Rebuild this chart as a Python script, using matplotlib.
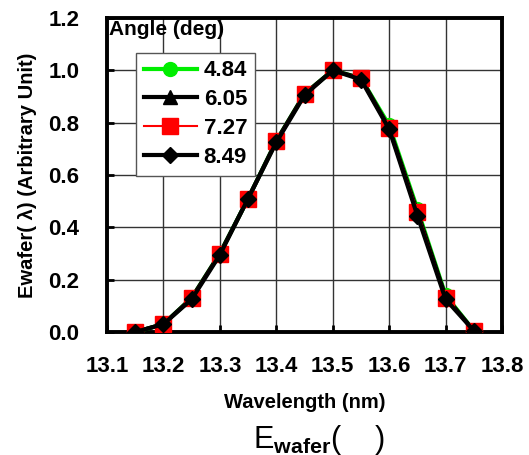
import matplotlib.pyplot as plt

plt.rcParams['font.family'] = ['Liberation Sans', 'DejaVu Sans']
plt.rcParams['mathtext.fontset'] = 'custom'
plt.rcParams['mathtext.rm'] = 'Liberation Sans'
plt.rcParams['mathtext.bf'] = 'Liberation Sans:bold'

# wavelength points (nm)
wl = [13.15, 13.20, 13.25, 13.30, 13.35, 13.40, 13.45, 13.50, 13.55, 13.60, 13.65, 13.70, 13.75]

# Ewafer for each angle
e_484 = [0.0, 0.03, 0.13, 0.30, 0.51, 0.73, 0.91, 1.00, 0.97, 0.79, 0.47, 0.14, 0.005]
e_605 = [0.0, 0.03, 0.13, 0.30, 0.51, 0.73, 0.91, 1.00, 0.97, 0.78, 0.46, 0.135, 0.005]
e_727 = [0.0, 0.03, 0.13, 0.30, 0.51, 0.73, 0.91, 1.00, 0.97, 0.78, 0.46, 0.13, 0.005]
e_849 = [0.0, 0.03, 0.125, 0.295, 0.51, 0.725, 0.905, 1.00, 0.965, 0.775, 0.445, 0.125, 0.005]

labels = ['4.84', '6.05', '7.27', '8.49']

fig = plt.figure(figsize=(5.29, 4.55), dpi=100)
ax = fig.add_axes([0.2023, 0.2703, 0.7467, 0.690])

ax.plot(wl, e_484, color='#00ee00', lw=3, marker='o', ms=10, label=labels[0], zorder=3)
ax.plot(wl, e_605, color='black', lw=3, marker='^', ms=10, label=labels[1], zorder=4)
ax.plot(wl, e_727, color='red', lw=1.5, marker='s', ms=11, label=labels[2], zorder=5)
ax.plot(wl, e_849, color='black', lw=3, marker='D', ms=8, label=labels[3], zorder=6)

ax.set_xlim(13.1, 13.8)
ax.set_ylim(0, 1.2)
ax.set_xticks([13.1, 13.2, 13.3, 13.4, 13.5, 13.6, 13.7, 13.8])
ax.set_yticks([0.0, 0.2, 0.4, 0.6, 0.8, 1.0, 1.2])
ax.set_yticklabels(['0.0', '0.2', '0.4', '0.6', '0.8', '1.0', '1.2'])
ax.grid(True, color='#333333', lw=1)
ax.set_axisbelow(True)
for s in ax.spines.values():
    s.set_linewidth(2.8)
ax.tick_params(direction='in', length=5, width=2, pad=17, labelsize=16)
ax.tick_params(axis='y', pad=20)
for t in ax.get_xticklabels() + ax.get_yticklabels():
    t.set_fontweight('bold')

ax.set_xlabel('Wavelength (nm)', fontsize=14.5, fontweight='bold', labelpad=12)
ax.set_ylabel('Ewafer( λ) (Arbitrary Unit)', fontsize=14.5, fontweight='bold', labelpad=8)

ax.text(0.005, 0.995, 'Angle (deg)', transform=ax.transAxes, fontsize=15,
        fontweight='bold', va='top', ha='left', zorder=10)
leg = ax.legend(loc='upper left', bbox_to_anchor=(0.045, 0.925),
                prop={'weight': 'bold', 'size': 16}, handlelength=2.4,
                handletextpad=0.3, labelspacing=0.35, borderpad=0.35,
                fancybox=False, edgecolor='#555555', framealpha=1)
leg.get_frame().set_linewidth(1)

fig.text(0.478, 0.015, 'E$_{\\mathbf{wafer}}$(    )', fontsize=22,
         ha='left', va='baseline')

fig.savefig('out.png', dpi=100)
